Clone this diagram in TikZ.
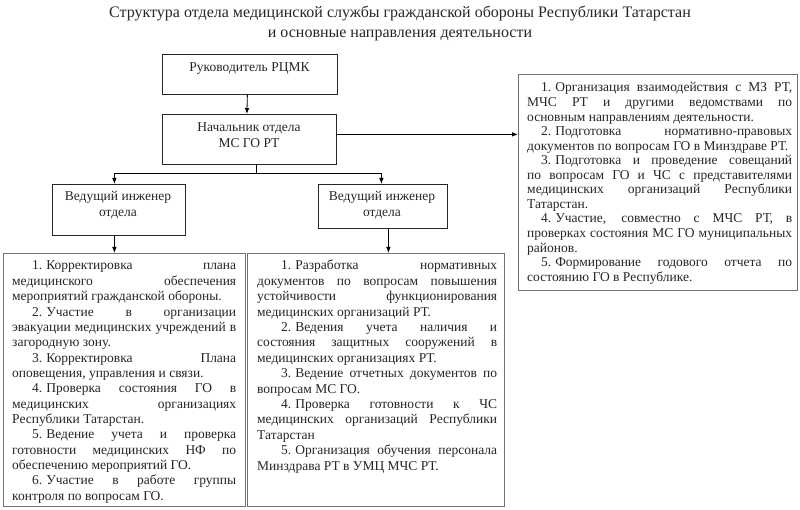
\documentclass[tikz,border=0pt]{standalone}
\usepackage{fontspec}
\setmainfont{Liberation Serif}
\usetikzlibrary{arrows.meta}
\hyphenpenalty=10000
\exhyphenpenalty=10000
\tolerance=9999
\hbadness=10000
\hfuzz=20pt
\newcommand{\num}[1]{#1.\hspace{4pt}}
\begin{document}
\begin{tikzpicture}[x=1pt,y=-1pt,
  frame/.style={draw=black!85, line width=0.8pt, inner sep=0pt, anchor=north west},
  tbox/.style={draw=black!55, line width=1.3pt, inner sep=0pt, anchor=north west},
  lbl/.style={text=black!85, font=\fontsize{13.5}{15.4}\selectfont, align=center, inner sep=0pt},
  para/.style={text=black!85, inner sep=0pt, anchor=base west, align=justify},
  arr/.style={draw=black, line width=0.8pt, -{Latex[length=6pt,width=4.5pt]}},
  conn/.style={draw=black, line width=0.8pt}]
\useasboundingbox[fill=white] (0,0) rectangle (800,510);

% title
\node[lbl, font=\fontsize{16}{20}\selectfont] (title) at (400,23)
  {Структура отдела медицинской службы гражданской обороны Республики Татарстан\\
   и основные направления деятельности};

% frames
\node[frame, minimum width=175pt, minimum height=40pt] (ruk) at (162,54) {};
\node[frame, minimum width=174pt, minimum height=50pt] (nach) at (162,114) {};
\node[frame, minimum width=133pt, minimum height=51pt] (vi1) at (52,184) {};
\node[frame, minimum width=129pt, minimum height=44pt] (vi2) at (318,184) {};
\node[tbox, minimum width=242pt, minimum height=253pt] (lbox) at (3,253) {};
\node[tbox, minimum width=257pt, minimum height=253pt] (mbox) at (247,253) {};
\node[tbox, minimum width=279pt, minimum height=216pt] (rbox) at (518,74) {};

% labels of frames
\node[lbl, anchor=base] (rukT) at (249.5,71.5) {Руководитель РЦМК};
\node[lbl] (nachT) at (249,135) {Начальник отдела\\МС ГО РТ};
\node[lbl] (vi1T) at (118,205) {Ведущий инженер\\отдела};
\node[lbl] (vi2T) at (382,205) {Ведущий инженер\\отдела};

% left text
\node[para, text width=224pt] (lText) at (12,270) {%
\fontsize{13.5}{15.35}\selectfont\setlength{\parindent}{20pt}%
\indent\num{1}Корректировка плана\linebreak
медицинского обеспечения\linebreak
мероприятий гражданской обороны.\par
\num{2}Участие в организации\linebreak
эвакуации медицинских учреждений в\linebreak
загородную зону.\par
\num{3}Корректировка Плана\linebreak
оповещения, управления и связи.\par
\num{4}Проверка состояния ГО в\linebreak
медицинских организациях\linebreak
Республики Татарстан.\par
\num{5}Ведение учета и проверка\linebreak
готовности медицинских НФ по\linebreak
обеспечению мероприятий ГО.\par
\num{6}Участие в работе группы\linebreak
контроля по вопросам ГО.\par};

% middle text
\node[para, text width=240pt] (mText) at (257,270) {%
\fontsize{13.5}{15.4}\selectfont\setlength{\parindent}{24pt}%
\indent\num{1}Разработка нормативных\linebreak
документов по вопросам повышения\linebreak
устойчивости функционирования\linebreak
медицинских организаций РТ.\par
\num{2}Ведения учета наличия и\linebreak
состояния защитных сооружений в\linebreak
медицинских организациях РТ.\par
\num{3}Ведение отчетных документов по\linebreak
вопросам МС ГО.\par
\num{4}Проверка готовности к ЧС\linebreak
медицинских организаций Республики\linebreak
Татарстан\par
\num{5}Организация обучения персонала\linebreak
Минздрава РТ в УМЦ МЧС РТ.\par};

% right text
\node[para, text width=265pt] (rText) at (527,92) {%
\fontsize{13.5}{14.55}\selectfont\setlength{\parindent}{14pt}%
\indent\num{1}Организация взаимодействия с МЗ РТ,\linebreak
МЧС РТ и другими ведомствами по\linebreak
основным направлениям деятельности.\par
\num{2}Подготовка нормативно-правовых\linebreak
\mbox{документов по вопросам ГО в Минздраве РТ.}\par
\num{3}Подготовка и проведение совещаний\linebreak
по вопросам ГО и ЧС с представителями\linebreak
медицинских организаций Республики\linebreak
Татарстан.\par
\num{4}Участие, совместно с МЧС РТ, в\linebreak
проверках состояния МС ГО муниципальных\linebreak
районов.\par
\num{5}Формирование годового отчета по\linebreak
состоянию ГО в Республике.\par};

% connectors
\draw[arr] ([xshift=-2.5pt]ruk.south) -- ([xshift=-2.5pt]nach.north);
\draw[arr] ([yshift=5pt]nach.east) -- ([yshift=5pt]nach.east -| rbox.west);
\coordinate (j) at ([xshift=7pt,yshift=-9pt]nach.south);
\draw[conn] (j |- nach.south) -- (j);
\draw[arr] (j) -| ([xshift=-4.5pt]vi1.north);
\draw[arr] (j) -| ([xshift=-1.5pt]vi2.north);
\draw[arr] ([xshift=-4.5pt]vi1.south) -- ([xshift=-4.5pt]vi1.south |- lbox.north);
\draw[arr] ([xshift=5.5pt]vi2.south) -- ([xshift=5.5pt]vi2.south |- mbox.north);
\end{tikzpicture}
\end{document}
